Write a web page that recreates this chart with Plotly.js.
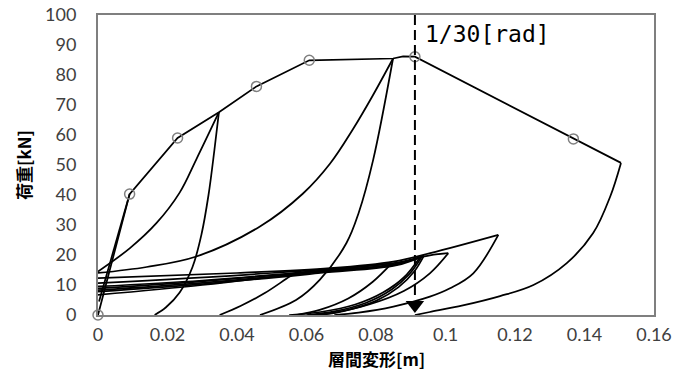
<!DOCTYPE html>
<html>
<head>
<meta charset="utf-8">
<script src="https://cdn.plot.ly/plotly-3.0.1.min.js"></script>
<style>html,body{margin:0;padding:0;background:#fff;}#chart{width:675px;height:383px;}</style>
</head>
<body>
<div id="chart"></div>
<script>
// ---- data (x: storey drift [m], y: load [kN]) ----
const backboneX = [0, 0.0091, 0.0229, 0.0348, 0.0456, 0.0608, 0.0849, 0.0868, 0.0878, 0.0912, 0.1368, 0.1505];
const backboneY = [0, 40.3, 59.0, 67.6, 76.2, 84.9, 85.5, 86.1, 86.2, 86.1, 58.7, 50.7];
const markerX = [0, 0.0091, 0.0229, 0.0456, 0.0608, 0.0912, 0.1368];
const markerY = [0, 40.3, 59.0, 76.2, 84.9, 86.1, 58.7];

const unload0X = [0.0091, 0.0003];
const unload0Y = [40.3, 4.5];
const curveAX = [0.0348, 0.0283, 0.0235, 0.0168, 0.0092, 0];
const curveAY = [67.6, 51.9, 40.8, 30.6, 22.3, 14.5];
const curveBX = [0.0348, 0.0335, 0.0318, 0.0298, 0.0272, 0.0235, 0.0195, 0.0163];
const curveBY = [67.6, 55.0, 40.0, 27.0, 16.0, 7.5, 2.5, 0];
const curveCX = [0.0849, 0.0790, 0.0734, 0.0668, 0.0590, 0.0466, 0.0283, 0.0140, 0];
const curveCY = [85.5, 73.0, 62.0, 50.5, 40.5, 29.5, 19.5, 16.0, 14.0];
const curveDX = [0.0849, 0.0792, 0.0750, 0.0715, 0.0638, 0.0570, 0.0466];
const curveDY = [85.5, 51.8, 34.0, 24.0, 11.7, 5.0, 0];

const reload1X = [0, 0.0400, 0.0668, 0.0850, 0.0956, 0.1152];
const reload1Y = [12.3, 14.0, 15.6, 17.8, 20.6, 26.7];
const reload2X = [0, 0.0500, 0.0850, 0.0955, 0.1008];
const reload2Y = [10.6, 14.0, 17.3, 19.9, 20.6];
const reload3X = [0, 0.0300, 0.0640, 0.0845];
const reload3Y = [9.5, 11.5, 14.8, 17.2];
const reload4X = [0, 0.0300, 0.0640, 0.0850, 0.0926];
const reload4Y = [8.9, 11.2, 14.6, 16.9, 19.2];
const reload5X = [0, 0.0300, 0.0640, 0.0860, 0.0932];
const reload5Y = [8.3, 10.7, 14.3, 16.9, 19.5];
const reload6X = [0, 0.0300, 0.0640, 0.0860, 0.0938];
const reload6Y = [7.8, 10.3, 14.0, 16.6, 19.8];
const reload7X = [0, 0.0300, 0.0565];
const reload7Y = [6.7, 10.0, 13.6];

const unloadBigX = [0.1152, 0.1080, 0.1013, 0.0955, 0.0850, 0.0750, 0.0680];
const unloadBigY = [26.7, 13.9, 8.9, 6.1, 2.8, 0.8, 0];
const unloadT2X = [0.1008, 0.0955, 0.0880, 0.0780, 0.0680, 0.0620];
const unloadT2Y = [20.6, 13.9, 8.0, 3.5, 0.8, 0];
const unloadU1X = [0.0565, 0.0552, 0.0480, 0.0410, 0.0350];
const unloadU1Y = [13.6, 12.8, 7.3, 3.0, 0];
const unloadU2X = [0.0845, 0.0790, 0.0720, 0.0638, 0.0570];
const unloadU2Y = [17.2, 11.0, 5.5, 1.7, 0];
const unloadB4X = [0.0926, 0.0880, 0.0820, 0.0740, 0.0640, 0.0550];
const unloadB4Y = [19.2, 12.5, 7.5, 3.5, 1.0, 0];
const unloadB5X = [0.0932, 0.0895, 0.0845, 0.0770, 0.0680, 0.0600];
const unloadB5Y = [19.5, 13.5, 8.5, 4.0, 1.2, 0];
const unloadB6X = [0.0938, 0.0910, 0.0865, 0.0800, 0.0710, 0.0640];
const unloadB6Y = [19.8, 14.5, 9.3, 4.7, 1.4, 0];
const unloadFinalX = [0.1505, 0.1474, 0.1425, 0.1349, 0.1253, 0.1157, 0.1050, 0.0955, 0.0912];
const unloadFinalY = [50.7, 39.5, 27.3, 17.3, 10.0, 6.3, 3.2, 1.0, 0];

const limitX = [0.0912, 0.0912];
const limitY = [100, 5];
const arrowX = [0.0912];
const arrowY = [3.3];
const limitLabel = '1/30[rad]';
const xTitle = '層間変形[m]';
const yTitle = '荷重[kN]';

// ---- traces ----
const LW = 1.75;
function curve(x, y, spline) {
  return {x: x, y: y, type: 'scatter', mode: 'lines', hoverinfo: 'skip',
    line: {color: '#000', width: LW, shape: spline ? 'spline' : 'linear', smoothing: 1}};
}
const traces = [
  curve(backboneX, backboneY, false),
  curve(unload0X, unload0Y, false),
  curve(curveAX, curveAY, true),
  curve(curveBX, curveBY, true),
  curve(curveCX, curveCY, true),
  curve(curveDX, curveDY, true),
  curve(reload1X, reload1Y, true),
  curve(reload2X, reload2Y, true),
  curve(reload3X, reload3Y, true),
  curve(reload4X, reload4Y, true),
  curve(reload5X, reload5Y, true),
  curve(reload6X, reload6Y, true),
  curve(reload7X, reload7Y, true),
  curve(unloadBigX, unloadBigY, true),
  curve(unloadT2X, unloadT2Y, true),
  curve(unloadU1X, unloadU1Y, true),
  curve(unloadU2X, unloadU2Y, true),
  curve(unloadB4X, unloadB4Y, true),
  curve(unloadB5X, unloadB5Y, true),
  curve(unloadB6X, unloadB6Y, true),
  curve(unloadFinalX, unloadFinalY, true),
  {x: markerX, y: markerY, type: 'scatter', mode: 'markers', cliponaxis: false, hoverinfo: 'skip',
    marker: {symbol: 'circle-open', size: 10, color: '#808080', line: {width: 1.5, color: '#808080'}}},
  {x: limitX, y: limitY, type: 'scatter', mode: 'lines', hoverinfo: 'skip',
    line: {color: '#000', width: 2, dash: '10px,5px'}},
  {x: arrowX, y: arrowY, type: 'scatter', mode: 'markers', cliponaxis: false, hoverinfo: 'skip',
    marker: {symbol: 'triangle-down', size: 16, color: '#000'}}
];

const tickFont = {family: 'Lato, sans-serif', size: 18, color: '#404040'};
const titleFont = {family: 'Noto Sans CJK JP, sans-serif', size: 17, color: '#000', weight: 'bold'};
const layout = {
  width: 675, height: 383,
  margin: {l: 98, r: 21, t: 15, b: 68},
  paper_bgcolor: '#fff', plot_bgcolor: '#fff',
  showlegend: false,
  xaxis: {
    range: [0, 0.16], dtick: 0.02, tick0: 0, showgrid: false, zeroline: false,
    showline: true, mirror: true, linecolor: '#7f7f7f', linewidth: 2,
    ticks: '', ticklabelstandoff: 2, tickfont: tickFont
  },
  yaxis: {
    range: [0, 100], dtick: 10, tick0: 0, showgrid: false, zeroline: false,
    showline: true, mirror: true, linecolor: '#7f7f7f', linewidth: 2,
    ticks: '', ticklabelstandoff: 16, tickfont: tickFont,
    title: {text: yTitle, standoff: 9, font: titleFont}
  },
  annotations: [{
    x: 0.0935, y: 93.7, xref: 'x', yref: 'y', xanchor: 'left', yanchor: 'middle',
    text: limitLabel, showarrow: false,
    font: {family: 'DejaVu Sans Mono, monospace', size: 23, color: '#000'}
  }, {
    x: 0.5, y: -0.096, xref: 'paper', yref: 'paper', xanchor: 'center', yanchor: 'top',
    text: xTitle, showarrow: false, font: titleFont
  }]
};

Plotly.newPlot('chart', traces, layout, {staticPlot: true, displayModeBar: false});
</script>
</body>
</html>
